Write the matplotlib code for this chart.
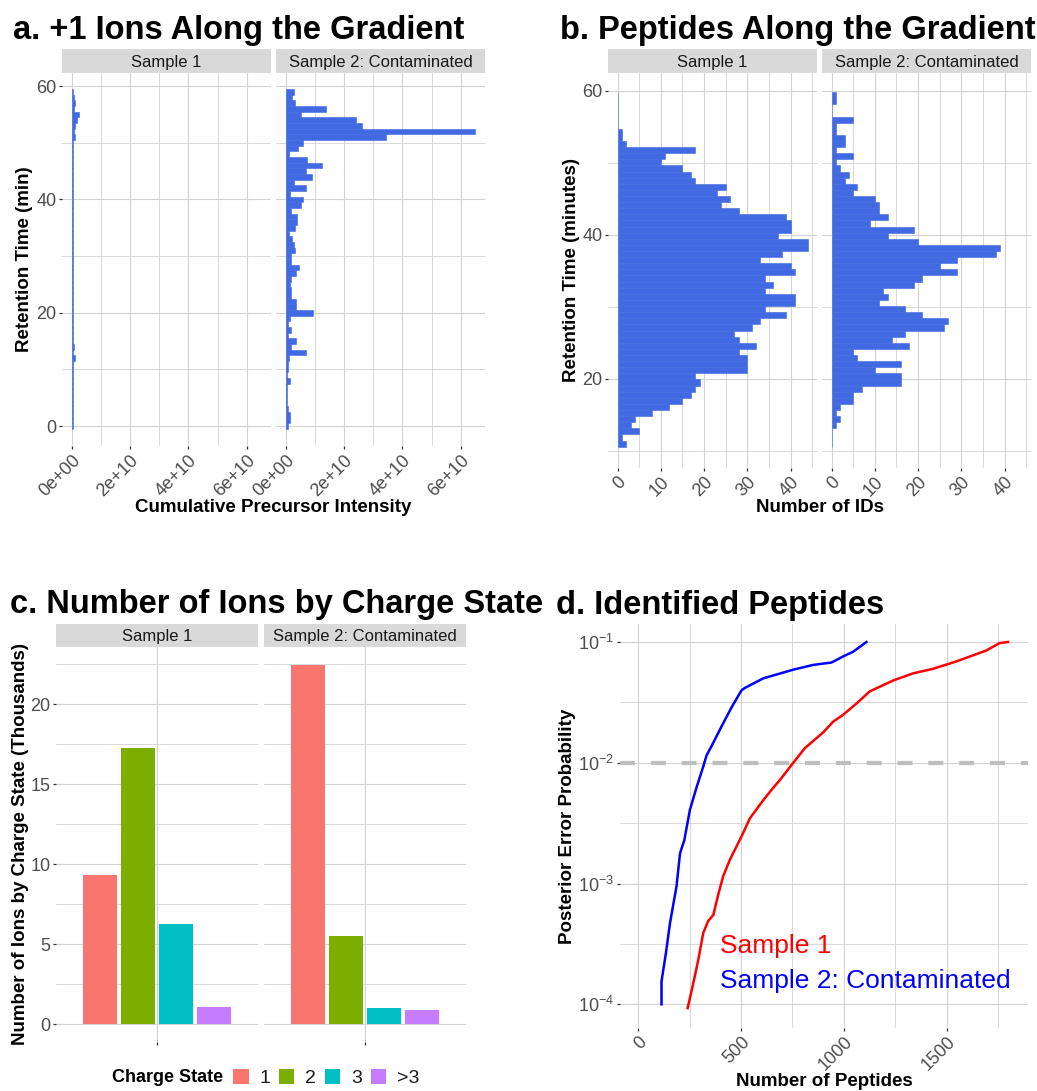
import matplotlib
matplotlib.use('Agg')
import matplotlib.pyplot as plt
import numpy as np
from matplotlib.patches import Patch

plt.rcParams['font.family'] = ['Liberation Sans', 'DejaVu Sans']
plt.rcParams['mathtext.fontset'] = 'custom'
plt.rcParams['mathtext.rm'] = 'Liberation Sans'
plt.rcParams['mathtext.it'] = 'Liberation Sans:italic'
plt.rcParams['mathtext.bf'] = 'Liberation Sans:bold'

# ---------------- data ----------------
facets = ["Sample 1", "Sample 2: Contaminated"]

# Panel a: cumulative +1 precursor intensity per minute (units of 1e10), minutes 0..59
ion_minutes = list(range(60))
ion_int_s1 = [0.03, 0.03, 0.03, 0.03, 0.03, 0.03, 0.03, 0.03, 0.03, 0.03,
              0.03, 0.03, 0.11, 0.03, 0.07, 0.03, 0.03, 0.03, 0.03, 0.03,
              0.03, 0.03, 0.03, 0.03, 0.03, 0.03, 0.03, 0.03, 0.03, 0.03,
              0.03, 0.03, 0.03, 0.03, 0.03, 0.03, 0.03, 0.03, 0.03, 0.03,
              0.03, 0.03, 0.03, 0.03, 0.03, 0.03, 0.03, 0.03, 0.03, 0.03,
              0.03, 0.11, 0.08, 0.12, 0.18, 0.25, 0.09, 0.11, 0.08, 0.06]
ion_int_s2 = [0.07, 0.16, 0.15, 0.07, 0.05, 0.03, 0.03, 0.05, 0.14, 0.05,
              0.07, 0.07, 0.10, 0.69, 0.20, 0.34, 0.07, 0.17, 0.08, 0.14,
              0.93, 0.35, 0.34, 0.20, 0.17, 0.14, 0.20, 0.34, 0.45, 0.20,
              0.18, 0.31, 0.27, 0.22, 0.11, 0.31, 0.38, 0.38, 0.18, 0.51,
              0.59, 0.16, 0.69, 0.27, 0.89, 0.69, 1.23, 0.73, 0.10, 0.41,
              0.58, 3.43, 6.50, 2.63, 2.40, 0.51, 1.40, 0.32, 0.23, 0.27]
ion_xticks = [0, 2e10, 4e10, 6e10]
ion_xticklabels = ["0e+00", "2e+10", "4e+10", "6e+10"]

# Panel b: histogram of peptide IDs along the gradient (58 bins, low -> high RT)
pep_bin_start = 10.56
pep_bin_width = 0.849
pep_counts_s1 = [2, 1, 5, 3, 4, 8, 12, 15, 17, 18, 19, 18, 30, 30, 30, 28, 32, 28, 27, 31,
                 33, 39, 34, 41, 41, 34, 36, 34, 41, 40, 33, 38, 44, 44, 37, 40, 40, 39, 28, 24,
                 26, 23, 25, 18, 17, 15, 10, 11, 18, 2, 1, 1, 0, 0, 0, 0, 0, 0]
pep_counts_s2 = [0, 0, 0, 1, 2, 1, 2, 5, 5, 7, 16, 16, 10, 16, 6, 5, 18, 14, 17, 26,
                 27, 21, 17, 11, 13, 12, 19, 21, 29, 25, 29, 38, 39, 20, 13, 19, 9, 13, 11, 11,
                 10, 5, 6, 3, 4, 2, 1, 5, 1, 3, 3, 1, 1, 5, 0, 0, 1, 1]

# Panel c: number of ions by charge state (thousands)
charge_states = ["1", "2", "3", ">3"]
charge_colors = ["#F8766D", "#7CAE00", "#00BFC4", "#C77CFF"]
charge_s1 = [9.34, 17.26, 6.26, 1.05]
charge_s2 = [22.47, 5.51, 0.98, 0.86]

# Panel d: posterior error probability vs number of peptides
pep_n_s1 = [240, 267, 292, 316, 340, 365, 389, 413, 446, 502, 543, 608, 656, 689, 754,
            810, 899, 948, 997, 1062, 1126, 1240, 1337, 1434, 1547, 1693, 1758, 1799]
pep_p_s1 = [9.3e-5, 1.48e-4, 2.34e-4, 3.9e-4, 4.9e-4, 5.5e-4, 8.1e-4, 1.15e-3, 1.58e-3,
            2.45e-3, 3.47e-3, 4.9e-3, 6.2e-3, 7.2e-3, 1.0e-2, 1.32e-2, 1.78e-2, 2.19e-2,
            2.5e-2, 3.1e-2, 3.9e-2, 4.8e-2, 5.5e-2, 6.0e-2, 6.9e-2, 8.5e-2, 9.8e-2, 0.1]
pep_n_s2 = [113, 113, 134, 154, 186, 203, 224, 251, 284, 316, 332, 357, 405, 454, 502,
            519, 608, 754, 851, 940, 997, 1045, 1110]
pep_p_s2 = [1.0e-4, 1.55e-4, 2.63e-4, 4.68e-4, 9.5e-4, 1.78e-3, 2.29e-3, 4.07e-3, 6.3e-3,
            9.3e-3, 1.15e-2, 1.38e-2, 2.0e-2, 2.88e-2, 3.98e-2, 4.17e-2, 5.0e-2, 5.9e-2,
            6.46e-2, 6.76e-2, 7.6e-2, 8.3e-2, 0.1]
pep_threshold = 0.01

# ---------------- style ----------------
W, H = 1037, 1091
fig = plt.figure(figsize=(W / 100, H / 100), dpi=100)

GRID = '#D3D3D3'
BLUE = '#4169E1'
TICKC = '#333333'
LABC = '#4D4D4D'
STRIP = '#D9D9D9'
TICKSIZE = 13


def box(x0, y0, x1, y1):
    return [x0 / W, 1 - y1 / H, (x1 - x0) / W, (y1 - y0) / H]


def style(ax):
    for s in ax.spines.values():
        s.set_visible(False)
    ax.set_axisbelow(True)
    ax.grid(True, which='major', color=GRID, lw=0.8)
    ax.grid(True, which='minor', color=GRID, lw=0.6)
    ax.tick_params(which='major', length=2.5, width=0.9, color=TICKC,
                   labelcolor=LABC, labelsize=TICKSIZE, pad=1.5)
    ax.tick_params(which='minor', length=0)


def strip(x0, y0, x1, y1, text):
    s = fig.add_axes(box(x0, y0, x1, y1))
    s.set_facecolor(STRIP)
    s.set_xticks([]); s.set_yticks([])
    for sp in s.spines.values():
        sp.set_visible(False)
    s.text(0.5, 0.45, text, ha='center', va='center', fontsize=12, color='#1A1A1A',
           transform=s.transAxes)


def rot_xlabels(ax, labels):
    ax.set_xticklabels(labels, rotation=45, ha='right', va='top',
                       rotation_mode='anchor')


# ---------------- panel a ----------------
a_x = [(62, 271), (276, 485)]
for i, vals in enumerate([ion_int_s1, ion_int_s2]):
    x0, x1 = a_x[i]
    ax = fig.add_axes(box(x0, 73, x1, 446))
    style(ax)
    ax.barh(ion_minutes, np.array(vals) * 1e10, height=1.0, color=BLUE,
            edgecolor=BLUE, lw=0.4)
    ax.set_xlim(-0.33e10, 6.83e10)
    ax.set_ylim(-3.5, 62.3)
    ax.set_xticks(ion_xticks)
    ax.set_xticks([1e10, 3e10, 5e10], minor=True)
    rot_xlabels(ax, ion_xticklabels)
    ax.set_yticks([0, 20, 40, 60])
    ax.set_yticks([10, 30, 50], minor=True)
    if i > 0:
        ax.tick_params(axis='y', left=False, labelleft=False)
    strip(x0, 49, x1, 73, facets[i])

fig.text(273 / W, 1 - 507 / H, "Cumulative Precursor Intensity", ha='center', va='center',
         fontsize=13.5, fontweight='bold')
fig.text(25 / W, 1 - 259.5 / H, "Retention Time (min)", ha='center', va='center',
         rotation=90, fontsize=13.5, fontweight='bold')
fig.text(13 / W, 1 - 39 / H, "a. +1 Ions Along the Gradient", ha='left', va='baseline',
         fontsize=23.5, fontweight='bold')

# ---------------- panel b ----------------
b_x = [(608, 817), (822, 1031)]
nb = len(pep_counts_s1)
bin_centers = pep_bin_start + pep_bin_width * (np.arange(nb) + 0.5)
for i, vals in enumerate([pep_counts_s1, pep_counts_s2]):
    x0, x1 = b_x[i]
    ax = fig.add_axes(box(x0, 73, x1, 468))
    style(ax)
    ax.barh(bin_centers, vals, height=pep_bin_width, color=BLUE, edgecolor=BLUE, lw=0.4)
    ax.set_xlim(-2.2, 46.1)
    ax.set_ylim(7.6, 62.45)
    ax.set_xticks([0, 10, 20, 30, 40])
    ax.set_xticks([5, 15, 25, 35, 45], minor=True)
    rot_xlabels(ax, ["0", "10", "20", "30", "40"])
    ax.set_yticks([20, 40, 60])
    ax.set_yticks([10, 30, 50], minor=True)
    if i > 0:
        ax.tick_params(axis='y', left=False, labelleft=False)
    strip(x0, 49, x1, 73, facets[i])

fig.text(819.5 / W, 1 - 507 / H, "Number of IDs", ha='center', va='center',
         fontsize=13.5, fontweight='bold')
fig.text(572 / W, 1 - 270.5 / H, "Retention Time (minutes)", ha='center', va='center',
         rotation=90, fontsize=13.5, fontweight='bold')
fig.text(560 / W, 1 - 39 / H, "b. Peptides Along the Gradient", ha='left', va='baseline',
         fontsize=23.5, fontweight='bold')

# ---------------- panel c ----------------
c_x = [(56, 258), (264, 466)]
offsets = np.array([-0.3375, -0.1125, 0.1125, 0.3375])
for i, vals in enumerate([charge_s1, charge_s2]):
    x0, x1 = c_x[i]
    ax = fig.add_axes(box(x0, 647, x1, 1042))
    style(ax)
    ax.bar(1 + offsets, vals, width=0.205, color=charge_colors)
    ax.set_xlim(0.4, 1.6)
    ax.set_ylim(-1.12, 23.57)
    ax.set_xticks([1])
    ax.set_xticklabels([""])
    ax.set_yticks([0, 5, 10, 15, 20])
    ax.set_yticks([2.5, 7.5, 12.5, 17.5, 22.5], minor=True)
    if i > 0:
        ax.tick_params(axis='y', left=False, labelleft=False)
    strip(x0, 624, x1, 647, facets[i])

fig.text(20.5 / W, 1 - 844 / H, "Number of Ions by Charge State (Thousands)", ha='center',
         va='center', rotation=90, fontsize=13.5, fontweight='bold')
fig.text(10 / W, 1 - 613 / H, "c. Number of Ions by Charge State", ha='left', va='baseline',
         fontsize=23.5, fontweight='bold')
fig.text(112 / W, 1 - 1078 / H, "Charge State", ha='left', va='center', fontsize=13,
         fontweight='bold')
handles = [Patch(facecolor=c, edgecolor='none') for c in charge_colors]
fig.legend(handles, charge_states, ncol=4, loc='center left',
           bbox_to_anchor=(233 / W, 1 - 1078 / H), frameon=False, fontsize=14,
           handlelength=0.8, handleheight=0.8, handletextpad=0.55, columnspacing=0.45,
           borderaxespad=0, borderpad=0, labelcolor='#1A1A1A')

# ---------------- panel d ----------------
ax = fig.add_axes(box(620, 624, 1028, 1028))
style(ax)
ax.set_yscale('log')
ax.plot(pep_n_s1, pep_p_s1, color='red', lw=1.8)
ax.plot(pep_n_s2, pep_p_s2, color='blue', lw=1.8)
ax.axhline(pep_threshold, color='#BEBEBE', lw=3, dashes=(3.6, 3.8))
ax.set_xlim(-89, 1896)
ax.set_ylim(10 ** -4.196, 10 ** -0.851)
ax.set_xticks([0, 500, 1000, 1500])
ax.set_xticks([250, 750, 1250, 1750], minor=True)
rot_xlabels(ax, ["0", "500", "1000", "1500"])
ax.set_yticks([1e-4, 1e-3, 1e-2, 1e-1])
ax.set_yticklabels([r'$10^{-4}$', r'$10^{-3}$', r'$10^{-2}$', r'$10^{-1}$'])
ax.set_yticks([10 ** -3.5, 10 ** -2.5, 10 ** -1.5], minor=True)
ax.yaxis.set_minor_formatter(plt.NullFormatter())
ax.tick_params(which='minor', length=0)
ax.text(397, 10 ** -3.52, "Sample 1", color='red', fontsize=19, ha='left', va='center')
ax.text(397, 10 ** -3.81, "Sample 2: Contaminated", color='blue', fontsize=19,
        ha='left', va='center')

fig.text(824 / W, 1 - 1082 / H, "Number of Peptides", ha='center', va='center',
         fontsize=13.5, fontweight='bold')
fig.text(567.5 / W, 1 - 826 / H, "Posterior Error Probability", ha='center', va='center',
         rotation=90, fontsize=13.5, fontweight='bold')
fig.text(556 / W, 1 - 614 / H, "d. Identified Peptides", ha='left', va='baseline',
         fontsize=23.5, fontweight='bold')

fig.savefig('out.png', dpi=100, facecolor='white')
